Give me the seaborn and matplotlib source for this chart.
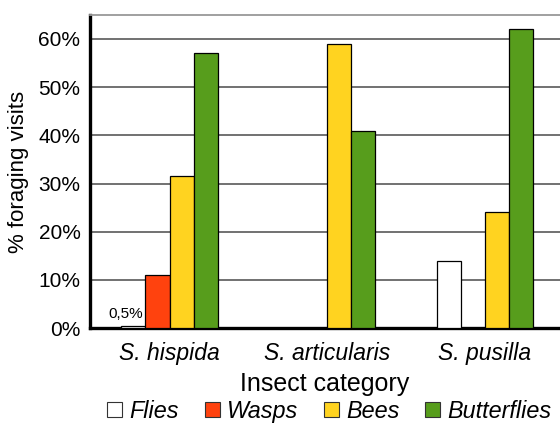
import numpy as np
import pandas as pd
import matplotlib
matplotlib.use('Agg')
import matplotlib.pyplot as plt
import seaborn as sns

# Data (% of foraging visits)
species = ['S. hispida', 'S. articularis', 'S. pusilla']
insects = ['Flies', 'Wasps', 'Bees', 'Butterflies']
flies = [0.5, 0, 14]
wasps = [11, 0, 0]
bees = [31.5, 59, 24]
butterflies = [57, 41, 62]
colors = ['#ffffff', '#ff420e', '#ffd320', '#579d1c']
yticks = [0, 10, 20, 30, 40, 50, 60]

rows = []
for name, vals in zip(insects, [flies, wasps, bees, butterflies]):
    for sp, v in zip(species, vals):
        rows.append({'species': sp, 'insect': name, 'value': v})
df = pd.DataFrame(rows)

sns.set_style('white')
plt.rcParams['font.family'] = ['Liberation Sans', 'DejaVu Sans']
plt.rcParams['text.color'] = 'black'
plt.rcParams['axes.labelcolor'] = 'black'
plt.rcParams['xtick.color'] = 'black'
plt.rcParams['ytick.color'] = 'black'

fig = plt.figure(figsize=(5.6, 4.25), dpi=100)
ax = fig.add_axes([0.161, 0.228, 0.839, 0.737])

sns.barplot(data=df, x='species', y='value', hue='insect', order=species,
            hue_order=insects, palette=colors, width=0.61, gap=0,
            edgecolor='black', linewidth=0.9, saturation=1, ax=ax, legend=False,
            errorbar=None, zorder=3)

ax.set_ylim(0, 65)
ax.set_xlim(-0.503, 2.475)
ax.set_yticks(yticks)
ax.set_yticklabels(['%d%%' % t for t in yticks])
ax.yaxis.grid(True, color='#4a4a4a', linewidth=1.1, zorder=0)
ax.set_axisbelow(True)
ax.tick_params(axis='y', length=0, labelsize=15, pad=7)
ax.tick_params(axis='x', length=0, labelsize=16.5, pad=10)
for lab in ax.get_xticklabels():
    lab.set_style('italic')

ax.spines['right'].set_visible(False)
ax.spines['top'].set_color('#999999')
ax.spines['top'].set_linewidth(1.3)
ax.spines['left'].set_color('black')
ax.spines['left'].set_linewidth(2.4)
ax.spines['bottom'].set_color('black')
ax.spines['bottom'].set_linewidth(2.4)

ax.set_xlabel('Insect category', fontsize=18, labelpad=5)
ax.set_ylabel('% foraging visits', fontsize=16, labelpad=7)

# small label on the tiny Flies bar
bar0 = ax.patches[0]
ax.text(bar0.get_x() + bar0.get_width() * 0.88, flies[0] + 1.0, '0,5%',
        ha='right', va='bottom', fontsize=11)

handles = [matplotlib.patches.Patch(facecolor=c, edgecolor='#333333', linewidth=0.8)
           for c in colors]
leg = fig.legend(handles, insects, loc='center', bbox_to_anchor=(0.588, 0.032),
                 ncol=4, frameon=False, handlelength=0.65, handleheight=0.65,
                 handletextpad=0.3, columnspacing=1.1, borderpad=0,
                 prop={'style': 'italic', 'size': 16.8})

fig.savefig('out.png', dpi=100)
